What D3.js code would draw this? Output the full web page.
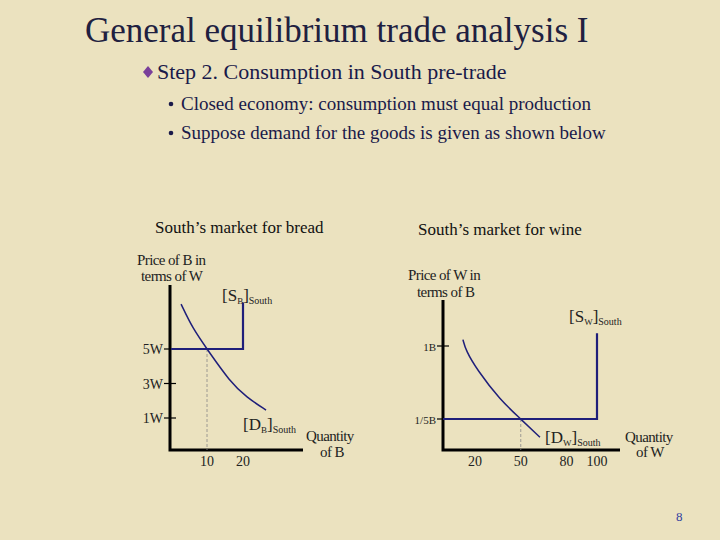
<!DOCTYPE html>
<html><head><meta charset="utf-8">
<script src="https://cdn.jsdelivr.net/npm/d3@7"></script>
<style>body{margin:0;background:#ebe2bf}svg{display:block}text{font-family:"Liberation Serif",serif}</style>
</head><body>
<script>
// bread market (South)
var breadTicks = [1, 3, 5]
var breadTickLabels = ["1W", "3W", "5W"]
var breadQTicks = [10, 20]
var breadDemand = [[2.8, 7.6], [6, 6.2], [10, 5], [16.4, 3.1], [21, 2.2], [26.4, 1.46]]
var breadSupply = [[0, 5], [20, 5], [20, 7.7]]
var breadEq = [10, 5]

// wine market (South)
var wineTicks = [0.2, 1]
var wineTickLabels = ["1/5B", "1B"]
var wineQTicks = [20, 50, 80, 100]
var wineDemand = [[12.1, 1.07], [14, 0.95], [21.3, 0.74], [36.4, 0.41], [50, 0.2], [62.6, 0.0]]
var wineSupply = [[-1, 0.2], [100, 0.2], [100, 1.14]]
var wineEq = [50, 0.2]

var svg = d3.select('body').append('svg').attr('width', 720).attr('height', 540)
var ink = '#1a1a4a', lineC = '#1f1f7a'

svg.append('text').attr('x', 85).attr('y', 42).attr('font-size', 35).attr('fill', '#202040').text('General equilibrium trade analysis I')
svg.append('path').attr('d', 'M148,66 L153,72 L148,78 L143,72 Z').attr('fill', '#7a3f9a')
svg.append('text').attr('x', 157).attr('y', 79).attr('font-size', 22).attr('fill', ink).text('Step 2. Consumption in South pre-trade')
var subs = ['Closed economy: consumption must equal production', 'Suppose demand for the goods is given as shown below']
subs.forEach(function(s, i) {
    svg.append('circle').attr('cx', 171).attr('cy', 104 + i * 29).attr('r', 2.3).attr('fill', ink)
    svg.append('text').attr('x', 181).attr('y', 110 + i * 29).attr('font-size', 19).attr('fill', ink).text(s)
})
svg.append('text').attr('x', 155).attr('y', 233).attr('font-size', 17).attr('fill', '#111').text('South\u2019s market for bread')
svg.append('text').attr('x', 418).attr('y', 235).attr('font-size', 17).attr('fill', '#111').text('South\u2019s market for wine')
svg.append('text').attr('x', 676).attr('y', 521).attr('font-size', 13).attr('fill', '#3040a0').text('8')

function market(o) {
    var g = svg.append('g')
    var x = d3.scaleLinear().domain(o.xd).range(o.xr)
    var y = d3.scaleLinear().domain(o.yd).range(o.yr)
    g.append('path').attr('d', 'M' + o.ax + ',' + o.top + ' V' + o.ay + ' H' + o.right)
        .attr('fill', 'none').attr('stroke', '#000').attr('stroke-width', 3)
    o.yt.forEach(function(t, i) {
        g.append('line').attr('x1', o.ax - 6).attr('x2', o.ax + 6).attr('y1', y(t)).attr('y2', y(t)).attr('stroke', '#000').attr('stroke-width', 1.2)
        g.append('text').attr('x', o.ax - 7).attr('y', y(t) + 5).attr('text-anchor', 'end').attr('font-size', o.tfs).attr('fill', '#222').text(o.ytl[i])
    })
    o.xt.forEach(function(t) {
        g.append('text').attr('x', x(t)).attr('y', o.ay + 16).attr('text-anchor', 'middle').attr('font-size', 14).attr('fill', '#222').text(t)
    })
    g.append('line').attr('x1', x(o.eq[0])).attr('x2', x(o.eq[0])).attr('y1', y(o.eq[1])).attr('y2', o.ay)
        .attr('stroke', '#888').attr('stroke-dasharray', '3,2').attr('stroke-width', 0.8)
    var line = d3.line().x(function(d) { return Math.max(x(d[0]), o.ax) }).y(function(d) { return y(d[1]) })
    g.append('path').attr('d', line(o.supply)).attr('fill', 'none').attr('stroke', lineC).attr('stroke-width', 2.2)
    g.append('path').attr('d', line.curve(d3.curveBasis)(o.demand)).attr('fill', 'none').attr('stroke', lineC).attr('stroke-width', 1.5)
    o.labels.forEach(function(l) {
        var t = g.append('text').attr('x', l[0]).attr('y', l[1]).attr('font-size', 14).attr('fill', '#222')
        t.append('tspan').attr('font-size', 17).text('[' + l[2])
        t.append('tspan').attr('font-size', 9).attr('dy', 3).text(l[3])
        t.append('tspan').attr('font-size', 17).attr('dy', -3).text(']')
        t.append('tspan').attr('font-size', 10).attr('dy', 3).text('South')
    })
    o.titles.forEach(function(l) {
        g.append('text').attr('x', l[0]).attr('y', l[1]).attr('font-size', 15).attr('fill', '#222').attr('letter-spacing', -0.6).text(l[2])
    })
}

market({xd: [0, 20], xr: [171, 243], yd: [1, 5], yr: [418, 349], ax: 170, ay: 450, top: 285, right: 303, tfs: 14,
    yt: breadTicks, ytl: breadTickLabels, xt: breadQTicks, demand: breadDemand, supply: breadSupply, eq: breadEq,
    labels: [[222, 301, 'S', 'B'], [243, 430, 'D', 'B']],
    titles: [[137, 265, 'Price of B in'], [141, 281, 'terms of W'], [306, 441, 'Quantity'], [320, 457, 'of B']]})
market({xd: [20, 100], xr: [475, 597], yd: [0.2, 1], yr: [419, 346], ax: 443, ay: 450, top: 300, right: 620, tfs: 11,
    yt: wineTicks, ytl: wineTickLabels, xt: wineQTicks, demand: wineDemand, supply: wineSupply, eq: wineEq,
    labels: [[569, 322, 'S', 'W'], [545, 443, 'D', 'W']],
    titles: [[408, 280, 'Price of W in'], [417, 297, 'terms of B'], [625, 442, 'Quantity'], [636, 457, 'of W']]})
</script>
</body></html>
